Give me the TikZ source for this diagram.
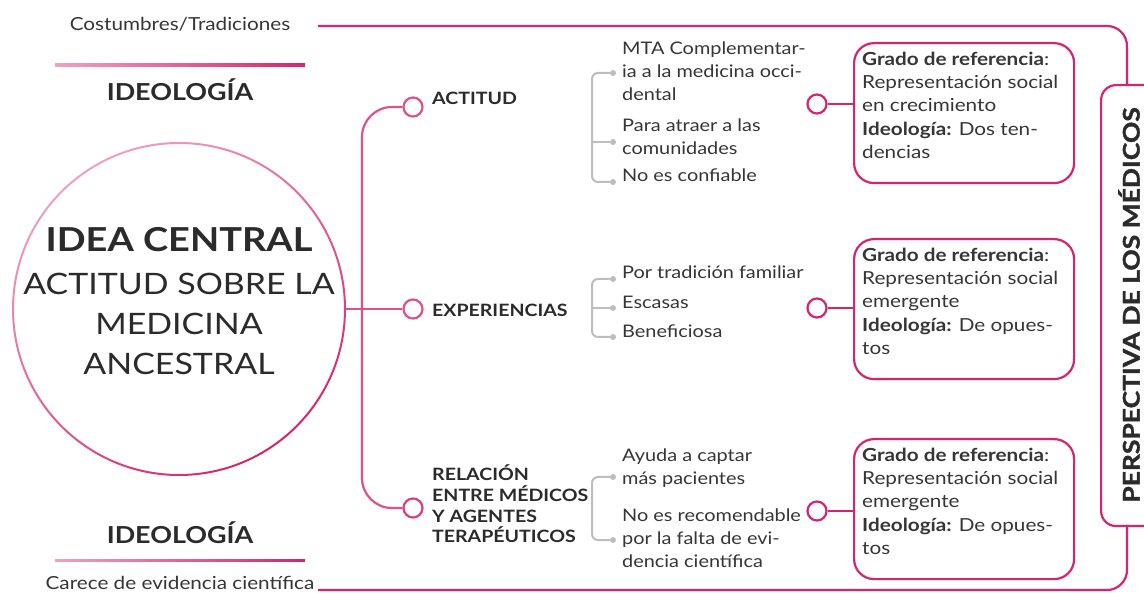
\documentclass[tikz,border=0pt]{standalone}
\usepackage{fontspec}
\setmainfont{Lato}[FakeStretch=1.15]
\newfontfamily\heavyfont{Lato}[FakeStretch=1.15, BoldFeatures={FakeBold=1.5}]
\usetikzlibrary{calc}
\definecolor{pinkD}{HTML}{D6246E}
\definecolor{pinkM}{HTML}{E0508A}
\definecolor{pinkL}{HTML}{F0A0C0}
\definecolor{txt}{HTML}{2B2B2B}
\definecolor{txtg}{HTML}{363636}
\definecolor{brk}{HTML}{BDBDBD}
\tikzset{
  smallc/.style={circle, draw=pinkD, line width=2.2pt, fill=white, minimum size=19pt, inner sep=0pt},
  bul/.style={circle, fill=brk, minimum size=6pt, inner sep=0pt},
  item/.style={anchor=north west, inner sep=0pt, align=left, text=txtg, font=\fontsize{17.3}{23}\selectfont},
  cat/.style={anchor=west, inner sep=0pt, align=left, text=txt, font=\bfseries\fontsize{17}{21}\selectfont},
  refbox/.style={draw=pinkD, line width=2.2pt, rounded corners=20pt, minimum width=220pt, minimum height=140pt, inner sep=0pt},
  reftext/.style={anchor=north west, inner sep=0pt, align=left, text=txtg, font=\fontsize{18}{23.2}\selectfont},
  bracket/.style={draw=brk, line width=2pt, rounded corners=6pt},
  trunk/.style={draw=pinkM, line width=2.2pt},
  mainline/.style={draw=pinkD, line width=2.2pt, rounded corners=20pt},
  ideo/.style={text=txt, font=\bfseries\fontsize{23.4}{28}\selectfont, inner sep=0pt},
  small/.style={text=txtg, font=\fontsize{18}{20}\selectfont, inner sep=0pt}
}
\begin{document}
\begin{tikzpicture}[x=1pt, y=-1pt]
\useasboundingbox (0,0) rectangle (1144,593);
\clip (0,0) rectangle (1144,593);
\fill[white] (0,0) rectangle (1144,593);

% left side texts
\node[small] (cost) at (180,24) {Costumbres/Tradiciones};
\shade[left color=pinkL, right color=pinkD] (55,64) rectangle (305,66.5);
\node[ideo] (ideo1) at (180,90) {IDEOLOGÍA};
\node[ideo] (ideo2) at (180,533) {IDEOLOGÍA};
\shade[left color=pinkL, right color=pinkD] (55,559) rectangle (305,561.5);
\node[small] (care) at (180,583) {Carece de evidencia científica};

% central circle
\node[circle, minimum size=332pt, inner sep=0pt] (center) at (179,309) {};
\shade[even odd rule, shading=axis, top color=pinkL, bottom color=pinkD, shading angle=35]
  (center.center) circle[radius=167pt] (center.center) circle[radius=165pt];
\node[text=txt, font=\bfseries\fontsize{33}{40}\selectfont, inner sep=0pt] (ic) at (179,240) {IDEA CENTRAL};
\node[text=txt, font=\fontsize{29.5}{40}\selectfont, inner sep=0pt, align=center] (ict) at (179,324) {ACTITUD SOBRE LA\\MEDICINA\\ANCESTRAL};

% perspective box and frame lines
\node[draw=pinkD, line width=2.2pt, rounded corners=15pt, minimum width=90pt, minimum height=441pt, anchor=north west] (persp) at (1100,84) {};
\node[rotate=90, text=txt, font=\heavyfont\bfseries\fontsize{23}{26}\selectfont, inner sep=0pt] (pt) at (1129,305) {PERSPECTIVA DE LOS MÉDICOS};
\coordinate (ptop) at (1127,84);
\coordinate (pbot) at (1127,525);
\coordinate (cs) at (318,26);
\coordinate (ce) at (318,590);
\draw[mainline] (cs) -| (ptop);
\draw[mainline] (ce) -| (pbot);

% small category circles
\node[smallc, draw=pinkM] (c1) at (413,107) {};
\node[smallc, draw=pinkM] (c2) at (413,309) {};
\node[smallc, draw=pinkM!60!pinkD] (c3) at (413,508) {};
\draw[trunk] (center.east) -- (c2.west);
\draw[trunk, rounded corners=30pt] (c1.west) -| (362,309) |- (c3.west);

\node[cat] (l1) at (432,98) {ACTITUD};
\node[cat] (l2) at (432,310) {EXPERIENCIAS};
\node[cat, font=\bfseries\fontsize{17}{20.7}\selectfont] (l3) at (432,504) {RELACIÓN\\ENTRE MÉDICOS\\Y AGENTES\\TERAPÉUTICOS};

% group 1
\node[bul] (b11) at (613,73) {};
\node[bul] (b12) at (613,142) {};
\node[bul] (b13) at (613,182) {};
\draw[bracket] (b11) -| (592,127) |- (b13);
\draw[bracket] (592,142) -- (b12);
\node[item] (t11) at (622,42) {MTA Complementar-\\ia a la medicina occi-\\dental};
\node[item] (t12) at (622,119) {Para atraer a las\\comunidades};
\node[item] (t13) at (622,169) {No es confiable};

% group 2
\node[bul] (b21) at (613,279) {};
\node[bul] (b22) at (613,308) {};
\node[bul] (b23) at (613,337) {};
\draw[bracket] (b21) -| (592,308) |- (b23);
\draw[bracket] (592,308) -- (b22);
\node[item] (t21) at (622,266) {Por tradición familiar};
\node[item] (t22) at (622,296) {Escasas};
\node[item] (t23) at (622,325) {Beneficiosa};

% group 3
\node[bul] (b31) at (613,477) {};
\node[bul] (b32) at (613,540) {};
\draw[bracket] (b31) -| (592,508) |- (b32);
\node[item] (t31) at (622,449) {Ayuda a captar\\más pacientes};
\node[item] (t32) at (622,509) {No es recomendable\\por la falta de evi-\\dencia científica};

% right circles and boxes
\node[smallc] (r1) at (817,104) {};
\node[smallc] (r2) at (817,308) {};
\node[smallc] (r3) at (817,511) {};
\node[refbox, anchor=north west] (box1) at (853,42) {};
\node[refbox, anchor=north west] (box2) at (853,238) {};
\node[refbox, anchor=north west] (box3) at (853,438) {};
\draw[draw=pinkD, line width=2pt] (r1.east) -- (r1.east -| box1.west);
\draw[draw=pinkD, line width=2pt] (r2.east) -- (r2.east -| box2.west);
\draw[draw=pinkD, line width=2pt] (r3.east) -- (r3.east -| box3.west);
\node[reftext] (bt1) at (862,52) {\textbf{Grado de referencia}:\\Representación social\\en crecimiento\\\textbf{Ideología:} Dos ten-\\dencias};
\node[reftext] (bt2) at (862,248) {\textbf{Grado de referencia}:\\Representación social\\emergente\\\textbf{Ideología:} De opues-\\tos};
\node[reftext] (bt3) at (862,448) {\textbf{Grado de referencia}:\\Representación social\\emergente\\\textbf{Ideología:} De opues-\\tos};
\end{tikzpicture}
\end{document}
